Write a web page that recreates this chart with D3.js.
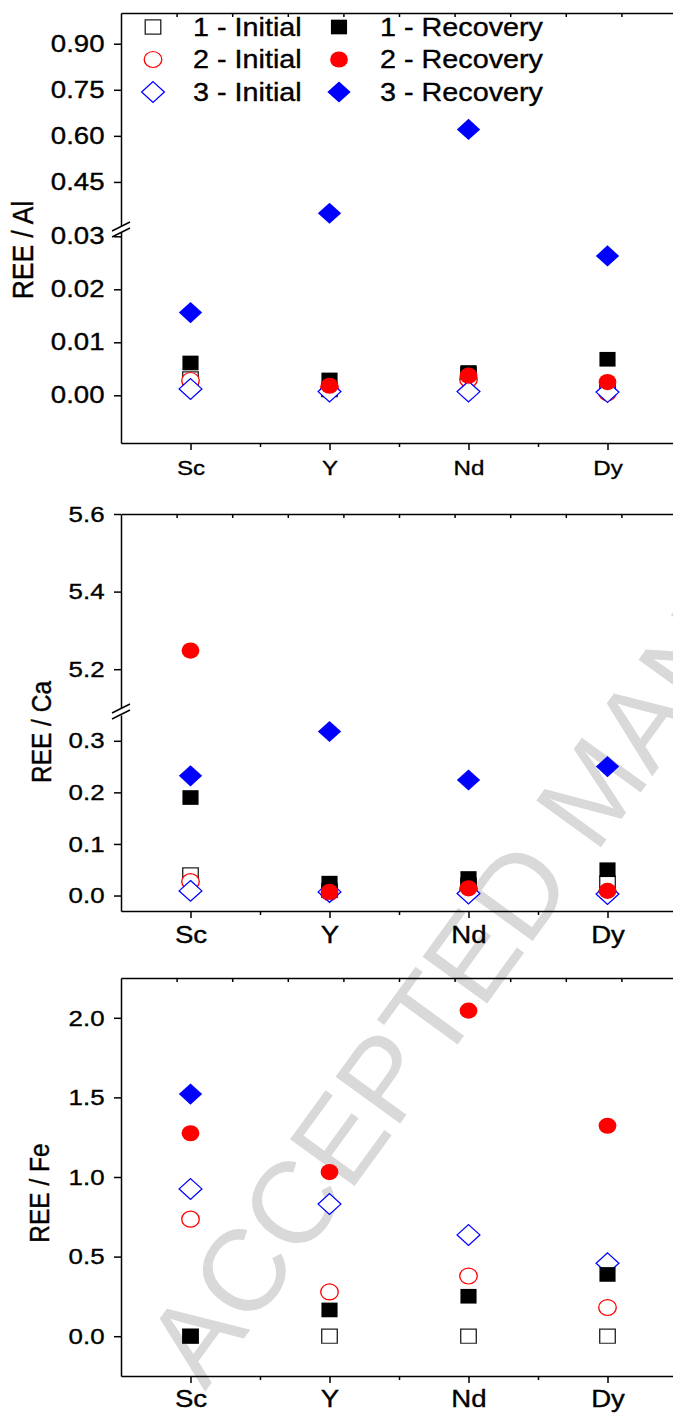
<!DOCTYPE html>
<html lang="en">
<head>
  <meta charset="UTF-8">
  <title>REE ratios</title>
  <script src="https://cdn.jsdelivr.net/npm/d3@7"></script>
  <style>
    body { margin: 0; background: #fff; }
    svg text { font-family: "Liberation Sans", Arial, sans-serif; fill: #000; }
    .lbl { stroke: #000; stroke-width: 0.35px; }
    .axis path, .axis line { stroke: #000; stroke-width: 1.5; }
  </style>
</head>
<body>
  <svg width="673" height="1414"></svg>
  <script>
    var elements = ['Sc', 'Y', 'Nd', 'Dy'];
    var seriesNames = ['1 - Initial', '2 - Initial', '3 - Initial', '1 - Recovery', '2 - Recovery', '3 - Recovery'];

    // REE / Al
    var al1Initial  = [0.0031, 0.0011, 0.0040, 0.0015];
    var al2Initial  = [0.0028, 0.0012, 0.0030, 0.0005];
    var al3Initial  = [0.0012, 0.0007, 0.0007, 0.0006];
    var al1Recovery = [0.0061, 0.0029, 0.0043, 0.0068];
    var al2Recovery = [null, 0.0018, 0.0037, 0.0025];
    var al3Recovery = [0.0156, 0.348, 0.621, 0.0263];
    var alLowerTicks = [0, 0.01, 0.02, 0.03];
    var alUpperTicks = [0.45, 0.60, 0.75, 0.90];

    // REE / Ca
    var ca1Initial  = [0.040, 0.010, 0.020, 0.024];
    var ca2Initial  = [0.027, 0.006, 0.012, 0.005];
    var ca3Initial  = [0.009, 0.007, 0.004, 0.003];
    var ca1Recovery = [0.190, 0.024, 0.033, 0.050];
    var ca2Recovery = [5.248, 0.007, 0.014, 0.009];
    var ca3Recovery = [0.232, 0.318, 0.224, 0.250];
    var caLowerTicks = [0, 0.1, 0.2, 0.3];
    var caUpperTicks = [5.2, 5.4, 5.6];

    // REE / Fe
    var fe1Initial  = [0.0, 0.0, 0.0, 0.0];
    var fe2Initial  = [0.735, 0.278, 0.378, 0.180];
    var fe3Initial  = [0.925, 0.830, 0.636, 0.458];
    var fe1Recovery = [0.0, 0.165, 0.251, 0.388];
    var fe2Recovery = [1.275, 1.031, 2.045, 1.322];
    var fe3Recovery = [1.521, null, null, null];
    var feTicks = [0, 0.5, 1.0, 1.5, 2.0];

    var svg = d3.select('svg');
    var stretch = 1.15;
    var axisLeftX = 121;
    var axisRightX = 677;

    var diamond = {
      draw: function(c, size) {
        var r = Math.sqrt(size / 2);
        c.moveTo(0, -r); c.lineTo(r, 0); c.lineTo(0, r); c.lineTo(-r, 0); c.closePath();
      }
    };
    var styles = [
      {type: d3.symbolSquare, size: 200, color: '#222', filled: false},
      {type: d3.symbolCircle, size: 200, color: '#ff0000', filled: false},
      {type: diamond, size: 215, color: '#0000ff', filled: false},
      {type: d3.symbolSquare, size: 215, color: '#000', filled: true},
      {type: d3.symbolCircle, size: 205, color: '#ff0000', filled: true},
      {type: diamond, size: 225, color: '#0000ff', filled: true}
    ];

    var x = d3.scaleLinear().domain([0.5, 4.5]).range([axisLeftX, axisRightX]);
    var topTicks = d3.range(0.9, 4.5, 0.4);

    // watermark
    svg.append('text')
      .attr('transform', 'translate(205,1392) rotate(-54)')
      .style('font-size', '116px')
      .style('fill', '#d9d9d9')
      .text('ACCEPTED MANUSCRIPT');

    var panels = [
      {
        title: 'REE / Al', titleX: 33, titleY: 250, titleFont: 26.5, top: 13, bottom: 443,
        yFont: 24, xFont: 21, xLabelY: 32, legend: true,
        series: [al1Initial, al2Initial, al3Initial, al1Recovery, al2Recovery, al3Recovery],
        segments: [
          {domain: [-0.009, 0.031], range: [443, 231], ticks: alLowerTicks, fmt: '.2f'},
          {domain: [0.3, 1.0], range: [228, 13], ticks: alUpperTicks, fmt: '.2f'}
        ]
      },
      {
        title: 'REE / Ca', titleX: 51, titleY: 732, titleFont: 24.5, top: 514, bottom: 911,
        yFont: 22.5, xFont: 24, xLabelY: 32, legend: false,
        series: [ca1Initial, ca2Initial, ca3Initial, ca1Recovery, ca2Recovery, ca3Recovery],
        segments: [
          {domain: [-0.03, 0.35], range: [911, 715], ticks: caLowerTicks, fmt: '.1f'},
          {domain: [5.1, 5.6], range: [708, 514], ticks: caUpperTicks, fmt: '.1f'}
        ]
      },
      {
        title: 'REE / Fe', titleX: 49, titleY: 1193, titleFont: 24.5, top: 978, bottom: 1376,
        yFont: 22.5, xFont: 24, xLabelY: 31, legend: false,
        series: [fe1Initial, fe2Initial, fe3Initial, fe1Recovery, fe2Recovery, fe3Recovery],
        segments: [
          {domain: [-0.25, 2.25], range: [1376, 978], ticks: feTicks, fmt: '.1f'}
        ]
      }
    ];

    panels.forEach(function(p) {
      var g = svg.append('g');
      var scales = p.segments.map(function(s) {
        return {scale: d3.scaleLinear().domain(s.domain).range(s.range), ticks: s.ticks, fmt: s.fmt};
      });
      var y = function(v) {
        for (var i = scales.length - 1; i > 0; i--) {
          if (v >= scales[i].scale.domain()[0]) return scales[i].scale(v);
        }
        return scales[0].scale(v);
      };

      // left axis, one piece per segment
      scales.forEach(function(s) {
        var ax = g.append('g')
          .attr('class', 'axis')
          .attr('transform', 'translate(' + axisLeftX + ',0)')
          .call(d3.axisLeft(s.scale).tickValues(s.ticks).tickFormat(d3.format(s.fmt))
            .tickSizeInner(7).tickSizeOuter(0));
        ax.selectAll('text')
          .attr('class', 'lbl')
          .attr('x', -14.3)
          .attr('transform', 'scale(' + stretch + ',1)')
          .style('font-size', p.yFont + 'px');
      });

      // axis break
      if (scales.length > 1) {
        var by = (scales[0].scale.range()[1] + scales[1].scale.range()[0]) / 2;
        var bk = g.append('g').attr('transform', 'translate(' + axisLeftX + ',' + by + ')');
        bk.append('path').attr('d', 'M-9,1.5L9,-7.5L9,-1.5L-9,7.5Z').attr('fill', '#fff');
        [[-9, 1.5, 9, -7.5], [-9, 7.5, 9, -1.5]].forEach(function(l) {
          bk.append('line')
            .attr('x1', l[0]).attr('y1', l[1]).attr('x2', l[2]).attr('y2', l[3])
            .attr('stroke', '#000').attr('stroke-width', 1.4);
        });
      }

      // top frame
      g.append('g')
        .attr('class', 'axis')
        .attr('transform', 'translate(0,' + p.top + ')')
        .call(d3.axisTop(x).tickValues(topTicks).tickSizeInner(-4).tickSizeOuter(0).tickFormat(''));

      // bottom axis
      var bx = g.append('g')
        .attr('class', 'axis')
        .attr('transform', 'translate(0,' + p.bottom + ')')
        .call(d3.axisBottom(x).tickValues([1, 2, 3, 4])
          .tickFormat(function(d) { return elements[d - 1]; })
          .tickSizeInner(7).tickSizeOuter(0));
      bx.selectAll('text')
        .attr('class', 'lbl')
        .attr('y', p.xLabelY)
        .attr('dy', 0)
        .attr('transform', 'scale(' + stretch + ',1)')
        .style('font-size', p.xFont + 'px');
      g.append('g')
        .attr('class', 'axis')
        .attr('transform', 'translate(0,' + p.bottom + ')')
        .call(d3.axisBottom(x).tickValues([1.5, 2.5, 3.5]).tickSize(4).tickFormat(''))
        .call(function(a) { a.select('.domain').remove(); });

      // axis title
      g.append('text')
        .attr('class', 'lbl')
        .attr('transform', 'translate(' + p.titleX + ',' + p.titleY + ') scale(1.12,1) rotate(-90)')
        .attr('text-anchor', 'middle')
        .style('font-size', p.titleFont + 'px')
        .text(p.title);

      // points
      styles.forEach(function(st, si) {
        var pts = p.series[si].map(function(v, i) { return {v: v, i: i}; })
          .filter(function(d) { return d.v !== null; });
        g.selectAll(null)
          .data(pts)
          .enter()
          .append('path')
          .attr('d', d3.symbol().type(st.type).size(st.size))
          .attr('transform', function(d) {
            return 'translate(' + x(d.i + 1) + ',' + y(d.v) + ') scale(1.1,1)';
          })
          .attr('fill', st.filled ? st.color : '#fff')
          .attr('stroke', st.filled ? 'none' : st.color)
          .attr('stroke-width', 1.2);
      });

      // legend
      if (p.legend) {
        var lg = g.append('g');
        styles.forEach(function(st, si) {
          var col = Math.floor(si / 3);
          var row = si % 3;
          var ly = 27 + row * 32.5;
          lg.append('path')
            .attr('d', d3.symbol().type(st.type).size(st.size))
            .attr('transform', 'translate(' + [153, 339][col] + ',' + ly + ') scale(1.1,1)')
            .attr('fill', st.filled ? st.color : '#fff')
            .attr('stroke', st.filled ? 'none' : st.color)
            .attr('stroke-width', 1.2);
          lg.append('text')
            .attr('class', 'lbl')
            .attr('transform', 'translate(' + [193, 380][col] + ',' + ly + ') scale(' + stretch + ',1)')
            .attr('dy', '0.35em')
            .style('font-size', '25px')
            .text(seriesNames[si]);
        });
      }
    });
  </script>
</body>
</html>
